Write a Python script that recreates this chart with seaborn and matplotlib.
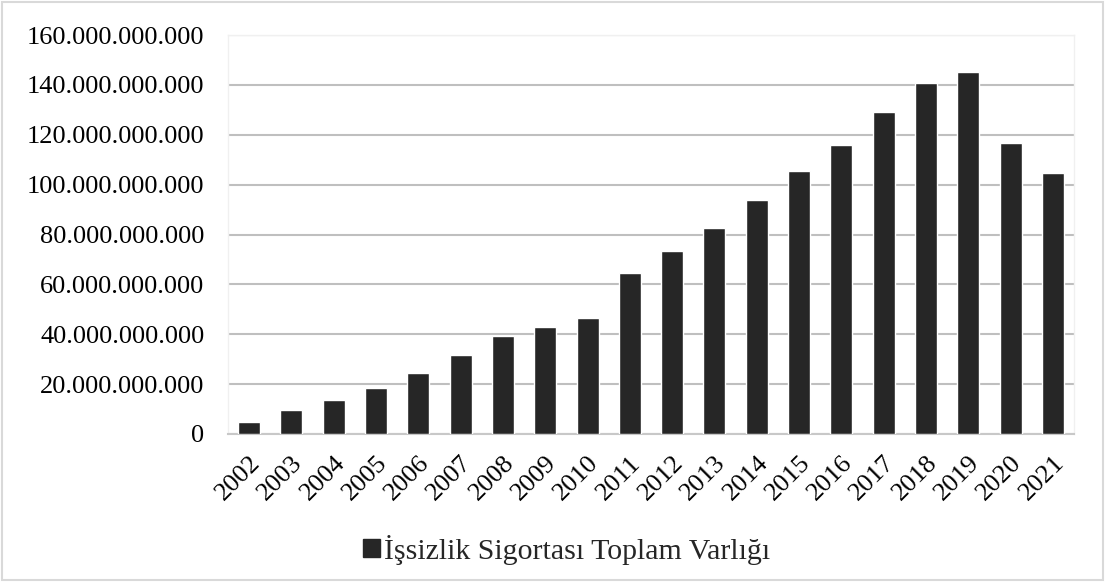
import matplotlib
matplotlib.use('Agg')
import matplotlib.pyplot as plt
import matplotlib.patches as mpatches
import matplotlib.ticker as mticker
import seaborn as sns
import pandas as pd

# values (TL)
years = [str(y) for y in range(2002, 2022)]
assets = [5.0e9, 9.6e9, 13.8e9, 18.6e9, 24.3e9, 31.6e9, 39.2e9, 43.0e9, 46.7e9, 64.4e9,
          73.4e9, 82.5e9, 93.7e9, 105.6e9, 115.8e9, 129.2e9, 140.7e9, 145.0e9, 116.5e9, 104.5e9]
series_name = 'İşsizlik Sigortası Toplam Varlığı'

df = pd.DataFrame({'Yıl': years, 'Varlık': assets})

sns.set_theme(style='white')
plt.rcParams['font.family'] = ['Liberation Serif', 'DejaVu Serif']

fig = plt.figure(figsize=(11.05, 5.82), dpi=100)
ax = fig.add_axes([228 / 1105, 1 - 434 / 582, (1074 - 228) / 1105, (434 - 35) / 582])

sns.barplot(data=df, x='Yıl', y='Varlık', color='#262626', width=0.52,
            saturation=1, ax=ax, zorder=3)

ax.set_ylim(0, 160e9)
ax.yaxis.set_major_locator(mticker.MultipleLocator(20e9))
ax.yaxis.set_major_formatter(mticker.FuncFormatter(lambda v, p: f'{int(v):,}'.replace(',', '.')))
ax.grid(axis='y', color='#bfbfbf', linewidth=1.5, zorder=0)
ax.set_xlabel('')
ax.set_ylabel('')
ax.tick_params(axis='both', labelsize=19, colors='black', length=0)
ax.tick_params(axis='y', pad=17)
ax.tick_params(axis='x', pad=13)
plt.setp(ax.get_xticklabels(), rotation=45, ha='right', rotation_mode='anchor')

for side in ['left', 'right', 'top']:
    ax.spines[side].set_color('#f0f0f0')
    ax.spines[side].set_linewidth(1)
ax.spines['bottom'].set_color('#c8c8c8')
ax.spines['bottom'].set_linewidth(1.5)

handle = mpatches.Patch(color='#262626', label=series_name)
fig.legend(handles=[handle], loc='center', bbox_to_anchor=(0.513, 1 - 550 / 582),
           frameon=False, fontsize=21.5, handlelength=0.55, handleheight=0.55,
           handletextpad=0.15)

# light outer border like the source chart
fig.patches.append(mpatches.Rectangle((0.002, 0.003), 0.996, 0.994, transform=fig.transFigure,
                                      fill=False, edgecolor='#d9d9d9', linewidth=1.5))

fig.savefig('out.png', dpi=100)
